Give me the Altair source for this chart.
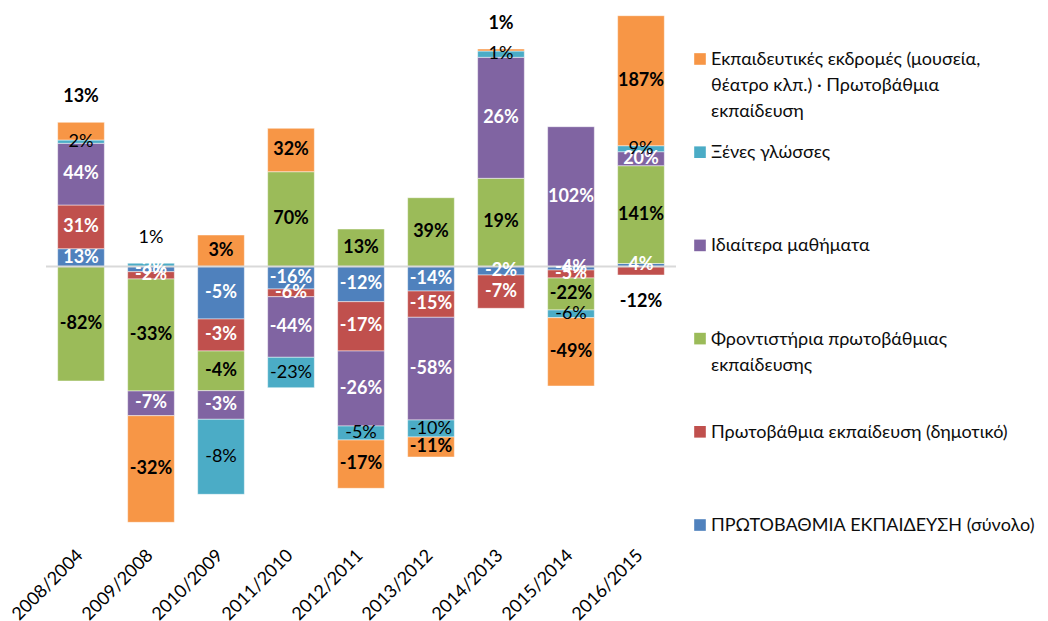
import altair as alt
import pandas as pd

# ---------------- data ----------------
periods = ["2008/2004", "2009/2008", "2010/2009", "2011/2010", "2012/2011",
           "2013/2012", "2014/2013", "2015/2014", "2016/2015"]

# stacking order (from the zero line outwards)
series = [
    "ΠΡΩΤΟΒΑΘΜΙΑ ΕΚΠΑΙΔΕΥΣΗ  (σύνολο)",
    "Πρωτοβάθμια εκπαίδευση (δημοτικό)",
    "Φροντιστήρια πρωτοβάθμιας εκπαίδευσης",
    "Ιδιαίτερα μαθήματα",
    "Ξένες γλώσσες",
    "Εκπαιδευτικές εκδρομές (μουσεία, θέατρο κλπ.) · Πρωτοβάθμια εκπαίδευση",
]
legend_lines = [
    ["ΠΡΩΤΟΒΑΘΜΙΑ ΕΚΠΑΙΔΕΥΣΗ  (σύνολο)"],
    ["Πρωτοβάθμια εκπαίδευση (δημοτικό)"],
    ["Φροντιστήρια πρωτοβάθμιας", "εκπαίδευσης"],
    ["Ιδιαίτερα μαθήματα"],
    ["Ξένες γλώσσες"],
    ["Εκπαιδευτικές εκδρομές (μουσεία,", "θέατρο κλπ.) · Πρωτοβάθμια", "εκπαίδευση"],
]
colors = ["#4F81BD", "#C0504D", "#9BBB59", "#8064A2", "#4BACC6", "#F79646"]

# segment sizes (contribution, chart units), one list per series
total_h    = [17.8, -5.2, -52.5, -22.5, -35.2, -24.5, -8.5, -3.5, 3.0]
primary_h  = [43.7, -7.3, -32.0, -7.7, -49.3, -26.3, -33.3, -8.0, -8.5]
tutoring_h = [-114.5, -112.0, -39.7, 94.8, 37.5, 68.8, 88.2, -32.0, 97.8]
private_h  = [61.7, -24.7, -28.6, -60.6, -75.0, -102.7, 121.0, 139.8, 14.0]
langs_h    = [3.3, 3.3, -75.0, -30.4, -14.0, -17.0, 6.3, -7.7, 6.0]
trips_h    = [17.7, -106.6, 31.5, 43.4, -48.3, -20.0, 2.0, -68.3, 130.0]

# data labels (% change)
total_lbl    = ["13%", "-3%", "-5%", "-16%", "-12%", "-14%", "-2%", "-4%", "4%"]
primary_lbl  = ["31%", "-2%", "-3%", "-6%", "-17%", "-15%", "-7%", "-5%", "-12%"]
tutoring_lbl = ["-82%", "-33%", "-4%", "70%", "13%", "39%", "19%", "-22%", "141%"]
private_lbl  = ["44%", "-7%", "-3%", "-44%", "-26%", "-58%", "26%", "102%", "20%"]
langs_lbl    = ["2%", "1%", "-8%", "-23%", "-5%", "-10%", "1%", "-6%", "9%"]
trips_lbl    = ["13%", "-32%", "3%", "32%", "-17%", "-11%", "1%", "-49%", "187%"]

# labels placed beyond the end of the bar
outside = {("2008/2004", 5): "above", ("2009/2008", 4): "above",
           ("2014/2013", 5): "above", ("2016/2015", 1): "below"}

heights = [total_h, primary_h, tutoring_h, private_h, langs_h, trips_h]
labels = [total_lbl, primary_lbl, tutoring_lbl, private_lbl, langs_lbl, trips_lbl]

# ---------------- stacking ----------------
ABOVE, BELOW = 25, 27
rows = []
for i, p in enumerate(periods):
    pos, neg = 0.0, 0.0
    recs = []
    for k, s in enumerate(series):
        v = heights[k][i]
        if v >= 0:
            y0, y1 = pos, pos + v
            pos = y1
        else:
            y0, y1 = neg, neg + v
            neg = y1
        recs.append(dict(period=p, series=s, k=k, y0=y0, y1=y1, label=labels[k][i]))
    for r in recs:
        place = outside.get((p, r["k"]), "in")
        if place == "above":
            r["ly"] = pos + ABOVE
        elif place == "below":
            r["ly"] = neg - BELOW
        else:
            r["ly"] = (r["y0"] + r["y1"]) / 2
        dark = place != "in" or r["k"] in (2, 4, 5)
        r["ink"] = "dark" if dark else "light"
        r["weight"] = "normal" if r["k"] == 4 else "bold"
        rows.append(r)
df = pd.DataFrame(rows)

FONT = "Lato, 'Open Sans', sans-serif"

x_enc = alt.X(
    "period:N", sort=periods, title=None,
    scale=alt.Scale(paddingInner=0.333, paddingOuter=0.1667),
    axis=alt.Axis(domain=False, ticks=False, tickSize=0, grid=False,
                  labelAngle=-45, labelAlign="right", labelBaseline="alphabetic",
                  labelPadding=30, labelOffset=3, labelFont=FONT,
                  labelFontSize=18, labelColor="#000000"),
)
y_scale = alt.Scale(domain=[-259.5, 258.5], nice=False, zero=False)
color_enc = alt.Color("series:N", scale=alt.Scale(domain=series, range=colors), legend=None)
ink_enc = alt.Fill("ink:N", scale=alt.Scale(domain=["dark", "light"], range=["#000000", "#FFFFFF"]), legend=None)

bars = alt.Chart(df).mark_bar(stroke="white", strokeWidth=0.6, strokeOpacity=0.8).encode(
    x=x_enc,
    y=alt.Y("y0:Q", scale=y_scale, axis=None),
    y2="y1:Q",
    color=color_enc,
)

zero = alt.Chart(pd.DataFrame({"v": [0]})).mark_rule(color="#D9D9D9", strokeWidth=2).encode(
    y=alt.Y("v:Q", scale=y_scale, axis=None)
)

txt_bold = alt.Chart(df[df["weight"] == "bold"]).mark_text(
    font=FONT, fontSize=18, fontWeight="bold", baseline="middle", align="center"
).encode(x=x_enc, y=alt.Y("ly:Q", scale=y_scale, axis=None), text="label:N", fill=ink_enc)

txt_norm = alt.Chart(df[df["weight"] == "normal"]).mark_text(
    font=FONT, fontSize=18, baseline="middle", align="center"
).encode(x=x_enc, y=alt.Y("ly:Q", scale=y_scale, axis=None), text="label:N", fill=ink_enc)

main = alt.layer(bars, zero, txt_bold, txt_norm).resolve_scale(
    color="independent", fill="independent"
).properties(width=630, height=518)

# ---------------- legend ----------------
legend_order = list(reversed(series))
leg = pd.DataFrame({
    "series": series,
    "text": ["\n".join(l) for l in legend_lines],
})
y_leg = alt.Y("series:N", sort=legend_order, axis=None,
              scale=alt.Scale(type="point", padding=0.547))

leg_sq = alt.Chart(leg).mark_square(size=135, opacity=1).encode(
    x=alt.value(10), y=y_leg, color=color_enc
)
leg_tx = alt.Chart(leg).mark_text(
    font=FONT, fontSize=18, align="left", baseline="alphabetic", dy=6,
    lineBreak="\n", lineHeight=26, color="#0D0D0D"
).encode(x=alt.value(21), y=y_leg, text="text:N")

legend = alt.layer(leg_sq, leg_tx).properties(width=330, height=568)

chart = alt.hconcat(main, legend, spacing=13).properties(padding=0).configure_view(stroke=None)

chart.save("out.html", embed_options={"renderer": "svg", "actions": False})
